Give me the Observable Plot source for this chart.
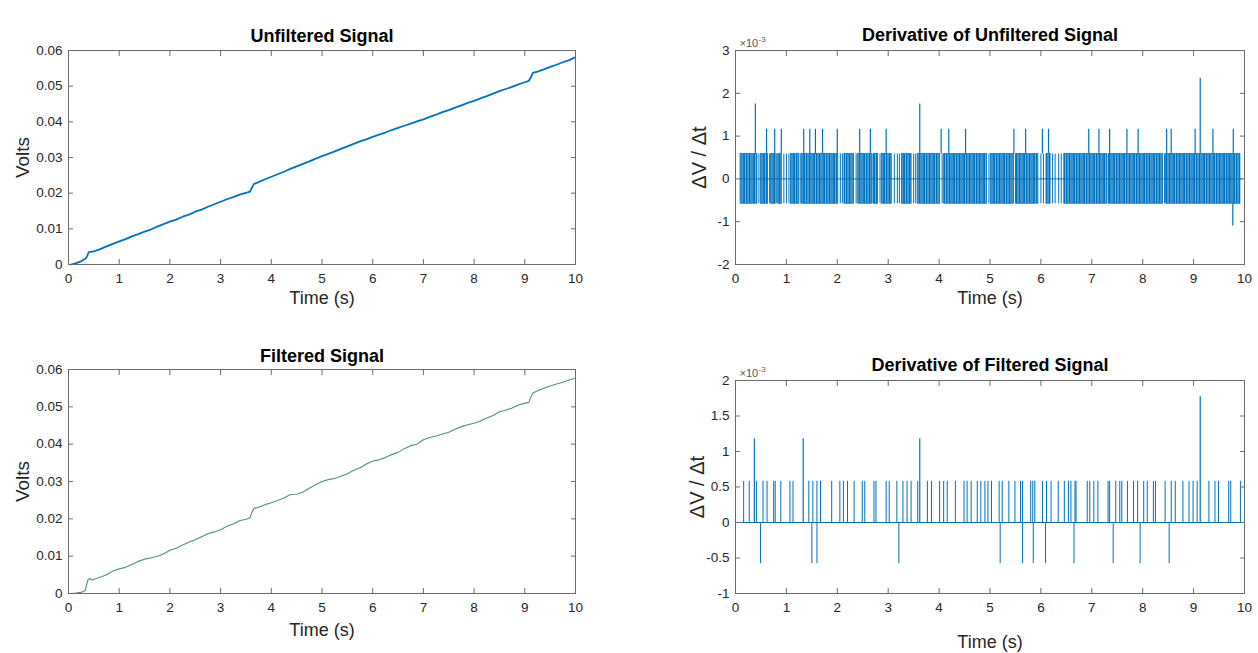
<!DOCTYPE html>
<html><head><meta charset="utf-8">
<script src="https://cdn.jsdelivr.net/npm/d3@7"></script>
<script src="https://cdn.jsdelivr.net/npm/@observablehq/plot@0.6"></script>
<style>
html,body{margin:0;padding:0;background:#fff;}
#fig{position:relative;width:1258px;height:653px;overflow:hidden;background:#fff;}
.panel{position:absolute;}
.panel svg{overflow:visible;}
</style></head><body>
<svg width="0" height="0" style="position:absolute">
<defs>
<pattern id="dense" width="10" height="4" patternUnits="userSpaceOnUse">
<rect width="10" height="4" fill="#0072BD" fill-opacity="0.55"/>
<rect x="0" width="1.5" height="4" fill="#0072BD"/>
<rect x="2.5" width="1" height="4" fill="#0072BD"/>
<rect x="4.2" width="1.8" height="4" fill="#0072BD"/>
<rect x="7" width="1" height="4" fill="#0072BD"/>
<rect x="8.6" width="0.8" height="4" fill="#0072BD"/>
</pattern>
</defs></svg>
<div id="fig"></div>
<script>
// ---------- data ----------
const xTicks = [0,1,2,3,4,5,6,7,8,9,10];
const voltTicks = [0,0.01,0.02,0.03,0.04,0.05,0.06];
const dUnfTicks = [-2,-1,0,1,2,3];
const dFilTicks = [-1,-0.5,0,0.5,1,1.5,2];

const unfT = [0.05,0.15,0.25,0.33,0.36,0.40,0.50,0.625,0.75,0.875,1.0,1.125,1.25,1.375,1.5,1.625,1.75,1.875,2.0,2.125,2.25,2.375,2.5,2.625,2.75,2.875,3.0,3.125,3.25,3.375,3.5,3.58,3.62,3.66,3.75,3.875,4.0,4.125,4.25,4.375,4.5,4.625,4.75,4.875,5.0,5.125,5.25,5.375,5.5,5.625,5.75,5.875,6.0,6.125,6.25,6.375,6.5,6.625,6.75,6.875,7.0,7.125,7.25,7.375,7.5,7.625,7.75,7.875,8.0,8.125,8.25,8.375,8.5,8.625,8.75,8.875,9.0,9.08,9.12,9.16,9.25,9.375,9.5,9.625,9.75,9.875,9.98];
const unfV = [0.0000,0.0004,0.0009,0.0016,0.0021,0.0035,0.0037,0.0043,0.0051,0.0058,0.0065,0.0071,0.0079,0.0085,0.0092,0.0098,0.0106,0.0113,0.0120,0.0126,0.0134,0.0140,0.0148,0.0154,0.0162,0.0169,0.0176,0.0183,0.0189,0.0196,0.0201,0.0204,0.0216,0.0226,0.0231,0.0239,0.0246,0.0253,0.0260,0.0268,0.0275,0.0282,0.0289,0.0297,0.0304,0.0310,0.0317,0.0324,0.0331,0.0338,0.0345,0.0351,0.0358,0.0364,0.0370,0.0377,0.0383,0.0389,0.0395,0.0401,0.0407,0.0414,0.0420,0.0427,0.0433,0.0440,0.0446,0.0453,0.0459,0.0466,0.0472,0.0479,0.0486,0.0492,0.0498,0.0505,0.0511,0.0515,0.0525,0.0537,0.0541,0.0547,0.0554,0.0560,0.0567,0.0573,0.0580];

const filT = [0.05,0.15,0.25,0.33,0.36,0.38,0.42,0.46,0.55,0.65,0.75,0.875,1.0,1.125,1.25,1.375,1.5,1.625,1.75,1.875,2.0,2.125,2.25,2.375,2.5,2.625,2.75,2.875,3.0,3.125,3.25,3.375,3.5,3.58,3.62,3.66,3.75,3.875,4.0,4.125,4.25,4.375,4.5,4.625,4.75,4.875,5.0,5.125,5.25,5.375,5.5,5.625,5.75,5.875,6.0,6.125,6.25,6.375,6.5,6.625,6.75,6.875,7.0,7.125,7.25,7.375,7.5,7.625,7.75,7.875,8.0,8.125,8.25,8.375,8.5,8.625,8.75,8.875,9.0,9.08,9.12,9.16,9.25,9.375,9.5,9.625,9.75,9.875,9.98];
const filV = [0.0000,0.0001,0.0003,0.0008,0.0025,0.0036,0.0040,0.0036,0.0040,0.0045,0.0050,0.0060,0.0066,0.0070,0.0078,0.0086,0.0092,0.0095,0.0100,0.0106,0.0116,0.0121,0.0130,0.0137,0.0144,0.0152,0.0160,0.0165,0.0171,0.0180,0.0186,0.0195,0.0199,0.0203,0.0218,0.0228,0.0231,0.0238,0.0243,0.0249,0.0256,0.0265,0.0266,0.0272,0.0282,0.0291,0.0300,0.0305,0.0308,0.0314,0.0321,0.0330,0.0337,0.0347,0.0355,0.0358,0.0364,0.0372,0.0378,0.0388,0.0396,0.0400,0.0412,0.0418,0.0422,0.0427,0.0432,0.0440,0.0447,0.0452,0.0456,0.0462,0.0470,0.0477,0.0487,0.0491,0.0497,0.0505,0.0510,0.0512,0.0526,0.0537,0.0543,0.0550,0.0556,0.0561,0.0566,0.0572,0.0576];

// derivative of unfiltered (x10^-3)
const uLevels = [-0.58, 0.58];
const uBandStart = [0.10,0.50,0.70,0.84,1.09,1.30,2.14,2.41,2.72,2.88,3.27,3.58,4.10,5.02,5.52,6.11,6.46,7.34,8.46,9.72];
const uBandEnd   = [0.43,0.64,0.79,0.91,1.25,2.02,2.33,2.68,2.80,3.07,3.46,4.02,4.94,5.47,5.95,6.19,7.30,8.40,9.70,9.92];
const uSparseT = [0.46,0.67,0.81,0.95,1.00,1.05,1.27,2.06,2.10,2.37,2.70,2.84,3.12,3.18,3.22,3.50,3.54,4.06,4.98,5.50,6.00,6.05,6.23,6.28,6.35,6.40,7.32,8.43,9.71];
const uSpikeT = [0.39,0.61,0.77,0.90,1.34,1.46,1.57,1.71,2.00,2.44,2.65,2.96,3.62,4.04,4.19,4.52,5.47,5.70,6.03,6.15,6.94,7.14,7.35,7.69,7.91,8.47,8.56,9.03,9.13,9.38,9.78];
const uSpikeV = [1.75,1.16,1.16,1.16,1.16,1.16,1.16,1.16,1.16,1.16,1.16,1.16,1.75,1.16,1.16,1.16,1.16,1.16,1.16,1.16,1.16,1.16,1.16,1.16,1.16,1.16,1.16,1.16,2.35,1.16,1.16];
const uNegT = [9.77];
const uNegV = [-1.1];
const baseT = [0.10, 9.95];
const baseV = [0, 0];

// derivative of filtered (x10^-3)
const fPosT = [0.16,0.27,0.41,0.54,0.62,0.75,0.78,0.89,1.07,1.13,1.44,1.52,1.60,1.67,1.89,2.05,2.12,2.20,2.33,2.49,2.54,2.72,2.76,2.96,3.02,3.17,3.29,3.37,3.45,3.58,3.77,3.85,4.01,4.09,4.16,4.32,4.49,4.55,4.63,4.75,4.82,4.90,4.96,5.03,5.18,5.24,5.37,5.49,5.60,5.64,5.80,5.84,5.88,6.03,6.11,6.20,6.34,6.46,6.54,6.59,6.67,6.69,6.91,6.96,7.04,7.12,7.32,7.35,7.47,7.55,7.59,7.70,7.82,7.90,8.02,8.09,8.21,8.25,8.44,8.56,8.64,8.79,8.91,8.99,9.07,9.30,9.42,9.49,9.69,9.73,9.92];
const fPosLevel = 0.58;
const fBigT = [0.37,1.33,3.62,9.13];
const fBigV = [1.18,1.18,1.18,1.77];
const fNegT = [0.49,1.50,1.60,3.21,5.20,5.64,5.85,6.09,6.65,7.42,7.95,8.52];
const fNegLevel = -0.58;

// ---------- drawing ----------
const FONT = '"Liberation Sans", Arial, Helvetica, sans-serif';
const BLUE = "#0072BD";
const INK = "#262626";
const AX = "#6a6a6a";
const fig = document.getElementById("fig");

function panel(cfg) {
  const marks = [
    ...cfg.marks,
    Plot.frame({stroke: AX, strokeWidth: 1}),
    // inward tick marks (ticks only, shifted inside the frame)
    Plot.axisX(xTicks, {anchor: "bottom", tickSize: 5, dy: -5, label: null, stroke: AX, fill: "none"}),
    Plot.axisX(xTicks, {anchor: "top", tickSize: 5, dy: 5, label: null, stroke: AX, fill: "none"}),
    Plot.axisY(cfg.yTicks, {anchor: "left", tickSize: 5, dx: 5, label: null, stroke: AX, fill: "none"}),
    Plot.axisY(cfg.yTicks, {anchor: "right", tickSize: 5, dx: -5, label: null, stroke: AX, fill: "none"}),
    // tick labels
    Plot.axisX(xTicks, {anchor: "bottom", tickSize: 0, tickPadding: 9, label: null, stroke: "none", fill: INK, tickFormat: d => String(d)}),
    Plot.axisY(cfg.yTicks, {anchor: "left", tickSize: 0, tickPadding: 6, label: null, stroke: "none", fill: INK, tickFormat: cfg.yFmt}),
    Plot.text([cfg.title], {text: d => d, frameAnchor: "top", lineAnchor: "middle", textAnchor: "middle", dy: cfg.titleDy, fontWeight: "bold", fontSize: 18, fill: "#000"}),
    Plot.text(["Time (s)"], {text: d => d, frameAnchor: "bottom", lineAnchor: "middle", textAnchor: "middle", dy: cfg.xLabelDy, fontSize: 18, fill: INK}),
    Plot.text([cfg.yLabel], {text: d => d, frameAnchor: "left", lineAnchor: "middle", textAnchor: "middle", dx: cfg.yLabelDx, rotate: -90, fontSize: cfg.yLabelSize, fill: INK})
  ];
  if (cfg.exponent) {
    marks.push(Plot.text(["×10"], {text: d => d, frameAnchor: "top-left", lineAnchor: "middle", dx: 4, dy: -7, textAnchor: "start", fontSize: 11, fill: "#555"}));
    marks.push(Plot.text(["-3"], {text: d => d, frameAnchor: "top-left", lineAnchor: "middle", dx: 23, dy: -11, textAnchor: "start", fontSize: 8, fill: "#555"}));
  }
  const chart = Plot.plot({
    width: cfg.width, height: cfg.height,
    marginLeft: cfg.mL, marginRight: cfg.mR, marginTop: cfg.mT, marginBottom: cfg.mB,
    x: {domain: [0, 10]},
    y: {domain: cfg.yDomain},
    style: {fontFamily: FONT, fontSize: "13.5px", color: INK, background: "transparent", overflow: "visible"},
    marks
  });
  const div = document.createElement("div");
  div.className = "panel";
  div.style.left = cfg.left + "px";
  div.style.top = cfg.top + "px";
  div.appendChild(chart);
  fig.appendChild(div);
}

const voltFmt = d => d === 0 ? "0" : d.toFixed(2);
const plainFmt = d => String(d);

// Top-left: Unfiltered Signal
panel({
  left: 0, top: 0, width: 629, height: 320, mL: 68, mR: 54, mT: 50, mB: 56,
  yDomain: [0, 0.06], yTicks: voltTicks, yFmt: voltFmt,
  title: "Unfiltered Signal", titleDy: -14, xLabelDy: 34,
  yLabel: "Volts", yLabelDx: -46, yLabelSize: 19,
  marks: [
    Plot.line(unfV, {x: unfT, y: unfV, stroke: BLUE, strokeWidth: 1.8})
  ]
});

// Top-right: Derivative of Unfiltered Signal
panel({
  left: 629, top: 0, width: 629, height: 320, mL: 106, mR: 14, mT: 50, mB: 56,
  yDomain: [-2, 3], yTicks: dUnfTicks, yFmt: plainFmt,
  title: "Derivative of Unfiltered Signal", titleDy: -15, xLabelDy: 34,
  yLabel: "ΔV / Δt", yLabelDx: -36, yLabelSize: 20, exponent: true,
  marks: [
    Plot.line(baseV, {x: baseT, y: baseV, stroke: BLUE, strokeWidth: 1}),
    Plot.rect(uBandStart, {x1: uBandStart, x2: uBandEnd, y1: () => uLevels[0], y2: () => uLevels[1], fill: "url(#dense)", stroke: BLUE, strokeWidth: 0.8}),
    Plot.ruleX(uSparseT, {x: uSparseT, y1: () => uLevels[0], y2: () => uLevels[1], stroke: BLUE, strokeWidth: 1}),
    Plot.ruleX(uSpikeT, {x: uSpikeT, y1: () => uLevels[1], y2: uSpikeV, stroke: BLUE, strokeWidth: 1.2}),
    Plot.ruleX(uNegT, {x: uNegT, y1: () => uLevels[0], y2: uNegV, stroke: BLUE, strokeWidth: 1.2})
  ]
});

// Bottom-left: Filtered Signal
panel({
  left: 0, top: 320, width: 629, height: 333, mL: 68, mR: 54, mT: 49, mB: 60,
  yDomain: [0, 0.06], yTicks: voltTicks, yFmt: voltFmt,
  title: "Filtered Signal", titleDy: -13, xLabelDy: 37,
  yLabel: "Volts", yLabelDx: -46, yLabelSize: 19,
  marks: [
    Plot.line(filV, {x: filT, y: filV, stroke: "#4a9478", strokeWidth: 1.1})
  ]
});

// Bottom-right: Derivative of Filtered Signal
panel({
  left: 629, top: 320, width: 629, height: 333, mL: 106, mR: 14, mT: 60, mB: 60,
  yDomain: [-1, 2], yTicks: dFilTicks, yFmt: plainFmt,
  title: "Derivative of Filtered Signal", titleDy: -15, xLabelDy: 49,
  yLabel: "ΔV / Δt", yLabelDx: -38, yLabelSize: 20, exponent: true,
  marks: [
    Plot.line(baseV, {x: baseT, y: baseV, stroke: BLUE, strokeWidth: 1}),
    Plot.ruleX(fPosT, {x: fPosT, y1: 0, y2: () => fPosLevel, stroke: BLUE, strokeWidth: 1}),
    Plot.ruleX(fBigT, {x: fBigT, y1: 0, y2: fBigV, stroke: BLUE, strokeWidth: 1.2}),
    Plot.ruleX(fNegT, {x: fNegT, y1: 0, y2: () => fNegLevel, stroke: BLUE, strokeWidth: 1})
  ]
});
</script>
</body></html>
